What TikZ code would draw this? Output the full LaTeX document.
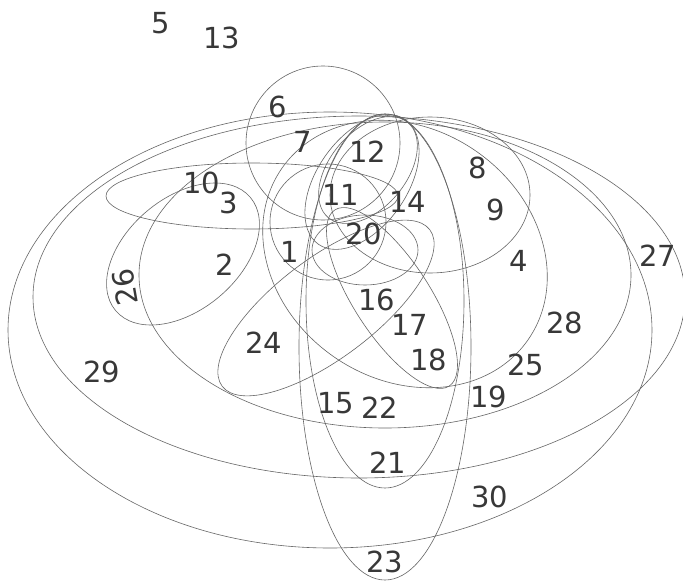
\documentclass[tikz,border=0pt]{standalone}
\usepackage{fontspec}
\setmainfont{DejaVu Sans}
\begin{document}
\begin{tikzpicture}[x=1pt,y=-1pt,
  ell/.style={draw=black!60, line width=0.6pt},
  lab/.style={font=\fontsize{29}{32}\selectfont, text=black!78, inner sep=0pt}]
\useasboundingbox[fill=white] (0,0) rectangle (683,581);
% big outer ellipses
\path[ell] (330,330) ellipse [x radius=322, y radius=218];
\path[ell] (359,297) ellipse [x radius=326, y radius=181];
\path[ell] (385,275) ellipse [x radius=246, y radius=153];
\path[ell, rotate around={-35:(405,254)}] (405,254) ellipse [x radius=150, y radius=125];
\path[ell] (430,195) ellipse [x radius=100, y radius=78];
% circles
\path[ell] (323,143) circle [radius=77];
\path[ell] (328,222) circle [radius=58];
% horizontal 10
\path[ell] (252,196) ellipse [x radius=146, y radius=33];
% left oval
\path[ell, rotate around={40:(183,254)}] (183,254) ellipse [x radius=88, y radius=56];
% 24
\path[ell, rotate around={37:(326,308)}] (326,308) ellipse [x radius=130, y radius=50];
% 16-18
\path[ell, rotate around={-57:(392,298)}] (392,298) ellipse [x radius=105, y radius=38];
% verticals
\path[ell] (385,347) ellipse [x radius=86, y radius=233];
\path[ell] (385,301) ellipse [x radius=79, y radius=187];
% 12 family
\path[ell, rotate around={50:(368,170)}] (368,170) ellipse [x radius=62, y radius=38];
\path[ell, rotate around={55:(362,182)}] (362,182) ellipse [x radius=76, y radius=45];
\path[ell] (365,250) ellipse [x radius=53, y radius=35];
% labels
\node[lab] (l5) at (161,23) {5};
\node[lab] (l13) at (222,38) {13};
\node[lab] (l6) at (278,107) {6};
\node[lab] (l7) at (303,142) {7};
\node[lab] (l12) at (368,152) {12};
\node[lab] (l8) at (478,168) {8};
\node[lab] (l10) at (202,183) {10};
\node[lab] (l3) at (229,203) {3};
\node[lab] (l11) at (341,195) {11};
\node[lab] (l14) at (408,202) {14};
\node[lab] (l9) at (496,210) {9};
\node[lab] (l20) at (364,234) {20};
\node[lab] (l2) at (225,265) {2};
\node[lab] (l1) at (290,252) {1};
\node[lab] (l4) at (519,261) {4};
\node[lab] (l27) at (658,256) {27};
\node[lab, rotate=100] (l26) at (125,287) {26};
\node[lab] (l16) at (377,300) {16};
\node[lab] (l17) at (410,325) {17};
\node[lab] (l24) at (264,343) {24};
\node[lab] (l28) at (565,323) {28};
\node[lab] (l18) at (429,360) {18};
\node[lab] (l25) at (526,365) {25};
\node[lab] (l29) at (102,372) {29};
\node[lab] (l19) at (489,397) {19};
\node[lab] (l15) at (336,403) {15};
\node[lab] (l22) at (380,408) {22};
\node[lab] (l21) at (388,463) {21};
\node[lab] (l30) at (490,497) {30};
\node[lab] (l23) at (385,562) {23};
\end{tikzpicture}
\end{document}
